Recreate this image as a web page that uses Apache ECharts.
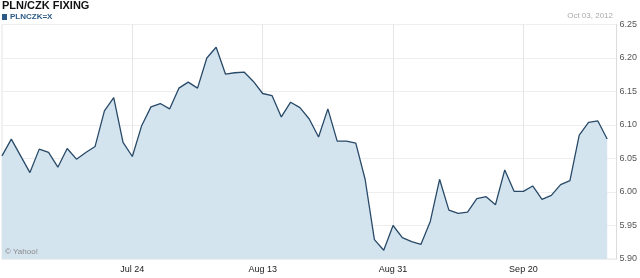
<!DOCTYPE html>
<html>
<head>
<meta charset="utf-8">
<script src="https://cdn.jsdelivr.net/npm/echarts@6/dist/echarts.min.js"></script>
<style>html,body{margin:0;padding:0;background:#fff}#c{width:640px;height:278px}</style>
</head>
<body>
<div id="c"></div>
<script>
var dates = ["Jul 4","Jul 5","Jul 6","Jul 9","Jul 10","Jul 11","Jul 12","Jul 13","Jul 16","Jul 17","Jul 18","Jul 19","Jul 20","Jul 23","Jul 24",
"Jul 25","Jul 26","Jul 27","Jul 30","Jul 31","Aug 1","Aug 2","Aug 3","Aug 6","Aug 7","Aug 8","Aug 9","Aug 10","Aug 13",
"Aug 14","Aug 15","Aug 16","Aug 17","Aug 20","Aug 21","Aug 22","Aug 23","Aug 24","Aug 27","Aug 28","Aug 29","Aug 30","Aug 31",
"Sep 3","Sep 4","Sep 5","Sep 6","Sep 7","Sep 10","Sep 11","Sep 12","Sep 13","Sep 14","Sep 17","Sep 18","Sep 19","Sep 20",
"Sep 21","Sep 24","Sep 25","Sep 26","Sep 27","Sep 28","Oct 1","Oct 2","Oct 3"];
var rates = [6.054,6.079,6.054,6.029,6.064,6.059,6.037,6.065,6.049,6.059,6.068,6.121,6.141,6.074,6.053,
6.099,6.127,6.132,6.124,6.155,6.164,6.155,6.200,6.216,6.176,6.178,6.179,6.165,6.147,
6.144,6.112,6.134,6.126,6.109,6.082,6.124,6.076,6.076,6.073,6.019,5.929,5.913,5.950,
5.932,5.926,5.922,5.956,6.019,5.973,5.968,5.970,5.990,5.993,5.981,6.033,6.001,6.001,
6.009,5.989,5.995,6.011,6.017,6.085,6.104,6.106,6.079];
var tickLabels = ["Jul 24","Aug 13","Aug 31","Sep 20"];
var yMin = 5.90, yMax = 6.25, yStep = 0.05;

var chart = echarts.init(document.getElementById('c'), null, {renderer:'canvas'});
var showTick = function(i, v){ return tickLabels.indexOf(v) >= 0; };
chart.setOption({
  animation:false,
  title:{text:'PLN/CZK FIXING', left:2, top:0, padding:0, textStyle:{fontFamily:'Liberation Sans, Arial', fontSize:11, fontWeight:'bold', color:'#111', lineHeight:12}},
  legend:{left:2, top:13, icon:'rect', itemWidth:5, itemHeight:6, itemGap:2, padding:0,
    textStyle:{fontFamily:'Liberation Sans, Arial', fontSize:8, fontWeight:'bold', color:'#2b5a86', padding:[0,0,0,-2]},
    data:['PLNCZK=X']},
  graphic:[
    {type:'text', right:27, top:12, style:{text:'Oct 03, 2012', fill:'#aaa', font:'8px Liberation Sans, Arial'}},
    {type:'text', left:5, top:248, z:100, style:{text:'\u00a9 Yahoo!', fill:'#888', font:'8px Liberation Sans, Arial'}}
  ],
  grid:{left:2, right:23, top:24.5, bottom:19, show:true, borderColor:'#e4e4e4', borderWidth:1, containLabel:false},
  xAxis:{type:'category', boundaryGap:false, data:dates.concat(['']),
    axisLine:{show:false}, axisTick:{show:false},
    axisLabel:{interval:showTick, fontFamily:'Liberation Sans, Arial', fontSize:9, color:'#222', margin:6},
    splitLine:{show:true, interval:showTick, lineStyle:{color:'#e6e6e6', width:1}}},
  yAxis:{type:'value', position:'right', min:yMin, max:yMax, interval:yStep,
    axisLine:{show:true, lineStyle:{color:'#dcdcdc'}}, axisTick:{show:false},
    axisLabel:{fontFamily:'Liberation Sans, Arial', fontSize:9, color:'#555', margin:3, formatter:function(v){return v.toFixed(2);}, padding:[3,0,0,0]},
    splitLine:{show:true, lineStyle:{color:'#eeeeee', width:1}}},
  series:[{name:'PLNCZK=X', type:'line', data:rates.concat([null]), symbol:'none', smooth:false,
    lineStyle:{color:'#284a68', width:1.3}, itemStyle:{color:'#2b5a86'},
    areaStyle:{color:'#d4e4ef', opacity:1}}]
});
</script>
</body>
</html>
